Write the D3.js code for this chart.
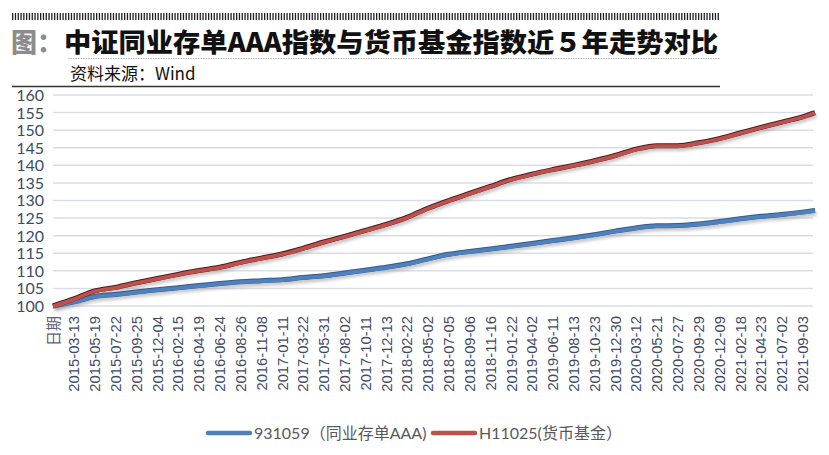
<!DOCTYPE html>
<html><head><meta charset="utf-8">
<script src="https://cdn.jsdelivr.net/npm/d3@7/dist/d3.min.js"></script>
<style>
html,body{margin:0;padding:0;background:#fff;}
svg{display:block;}
</style></head>
<body>
<svg id="chart" width="829" height="455"></svg>
<script>
// ---------- data ----------
const titlePrefix = "图：";
const titleText = "中证同业存单AAA指数与货币基金指数近５年走势对比";
const sourceText = "资料来源：Wind";
const yTicks = [100,105,110,115,120,125,130,135,140,145,150,155,160];
const xLabels = ["日期","2015-03-13","2015-05-19","2015-07-22","2015-09-25","2015-12-04","2016-02-15","2016-04-19","2016-06-24","2016-08-26","2016-11-08","2017-01-11","2017-03-22","2017-05-31","2017-08-02","2017-10-11","2017-12-13","2018-02-22","2018-05-02","2018-07-05","2018-09-06","2018-11-16","2019-01-22","2019-04-02","2019-06-11","2019-08-13","2019-10-23","2019-12-30","2020-03-12","2020-05-21","2020-07-27","2020-09-29","2020-12-09","2021-02-18","2021-04-23","2021-07-02","2021-09-03"];
const labelEvery = 45;     // trading days between labels
const lastDay = 1647;      // trading-day index of the final observation
const seriesNames = ["931059（同业存单AAA)","H11025(货币基金）"];
// values at each labelled day, plus the final observation
const cdValues = [100,101.2,102.7,103.3,104.0,104.6,105.2,105.8,106.4,106.9,107.2,107.5,108.1,108.6,109.4,110.2,111.0,112.0,113.4,114.7,115.5,116.2,117.0,117.8,118.6,119.4,120.3,121.3,122.2,122.8,122.9,123.3,124.0,124.8,125.5,126.0,126.7,127.2];
const mmfValues = [100,102.0,104.3,105.3,106.6,107.8,109.0,110.1,111.0,112.4,113.6,114.8,116.4,118.2,119.8,121.5,123.2,125.2,127.8,130.0,132.0,134.0,136.0,137.5,138.8,140.0,141.3,142.8,144.6,145.6,145.6,146.4,147.6,149.2,150.8,152.3,153.8,155.0];
const seriesColors = ["#4F81BD","#C0504D"];
const seriesEdges = ["#34598a","#4a1c1a"];

// ---------- setup ----------
const svg = d3.select("#chart");
const days = xLabels.map((d,i)=>i*labelEvery).concat([lastDay]);

const x = d3.scaleLinear().domain([0,lastDay]).range([53,815]);
const y = d3.scaleLinear().domain([100,160]).range([306,95]);

const defs = svg.append("defs");
const f = defs.append("filter").attr("id","shadow").attr("x","-5%").attr("y","-20%").attr("width","110%").attr("height","140%");
f.append("feGaussianBlur").attr("stdDeviation",1.6);

// ---------- header ----------
const bars = svg.append("g");
bars.selectAll("rect").data(d3.range(12,720,2.8)).join("rect")
  .attr("x",d=>d).attr("y",13).attr("width",1.3).attr("height",7).attr("fill","#222");

svg.append("text").attr("x",11).attr("y",52)
  .attr("font-family","'Noto Sans CJK SC'").attr("font-weight",900).attr("font-size",26)
  .attr("fill","#8c8c8c").text(titlePrefix);
svg.append("text").attr("x",64).attr("y",52)
  .attr("font-family","'Noto Sans CJK SC'").attr("font-weight",900).attr("font-size",26.5)
  .attr("textLength",654).attr("lengthAdjust","spacingAndGlyphs")
  .attr("fill","#111").text(titleText);

svg.append("line").attr("x1",68).attr("x2",720).attr("y1",58.5).attr("y2",58.5)
  .attr("stroke","#b5b5b5").attr("stroke-width",1).attr("stroke-dasharray","1.5,1");

svg.append("text").attr("x",70).attr("y",80)
  .attr("font-family","'Noto Sans CJK SC'").attr("font-size",17)
  .attr("fill","#111").text(sourceText);

svg.append("line").attr("x1",12).attr("x2",720).attr("y1",86.5).attr("y2",86.5)
  .attr("stroke","#333").attr("stroke-width",1.5);

// ---------- grid & y axis ----------
const grid = svg.append("g");
grid.selectAll("line").data(yTicks).join("line")
  .attr("x1",53).attr("x2",813)
  .attr("y1",d=>y(d)).attr("y2",d=>y(d))
  .attr("stroke","#d9dde6").attr("stroke-width",1.5);

const yAxis = d3.axisLeft(y).tickValues(yTicks).tickSize(0).tickPadding(0);
const yg = svg.append("g").attr("transform","translate(44,0)").call(yAxis);
yg.select(".domain").remove();
yg.selectAll("text").attr("font-family","Lato, 'Noto Sans'").attr("font-size",16)
  .attr("fill","#3f4b66").attr("dy","0.34em");

// ---------- x axis labels ----------
const xg = svg.append("g");
xg.selectAll("text").data(xLabels).join("text")
  .attr("transform",(d,i)=>`translate(${x(i*labelEvery)+5.5},316) rotate(-90)`)
  .attr("text-anchor","end")
  .attr("font-family",(d,i)=> i===0 ? "'Noto Sans CJK SC'" : "'Liberation Sans', Arial")
  .attr("font-size",(d,i)=> i===0 ? 15 : 14.8)
  .attr("fill",(d,i)=> i===0 ? "#5a6378" : "#3f4b66")
  .text(d=>d);

// ---------- lines ----------
const series = [cdValues, mmfValues];
const line = d3.line().x((d,i)=>x(days[i])).y(d=>y(d)).curve(d3.curveMonotoneX);

const shadowG = svg.append("g").attr("filter","url(#shadow)").attr("transform","translate(1.5,3)");
series.forEach((vals)=>{
  shadowG.append("path").attr("d",line(vals)).attr("fill","none")
    .attr("stroke","#9a9a9a").attr("stroke-opacity",0.55).attr("stroke-width",4.8);
});
series.forEach((vals,k)=>{
  svg.append("path").attr("d",line(vals)).attr("fill","none")
    .attr("stroke",seriesEdges[k]).attr("stroke-width",5).attr("stroke-linejoin","round");
  svg.append("path").attr("d",line(vals)).attr("fill","none")
    .attr("stroke",seriesColors[k]).attr("stroke-width",3.8).attr("stroke-linejoin","round")
    .attr("transform","translate(0,0.4)");
});

// ---------- legend ----------
const legend = svg.append("g").attr("transform","translate(0,433)");
const legendX = [208, 433];
seriesNames.forEach((name,k)=>{
  legend.append("line").attr("x1",legendX[k]).attr("x2",legendX[k]+42)
    .attr("y1",0).attr("y2",0).attr("stroke",seriesColors[k]).attr("stroke-width",4.5)
    .attr("stroke-linecap","round");
  legend.append("text").attr("x",legendX[k]+46).attr("y",0).attr("dy","0.35em")
    .attr("font-family","Lato, 'Noto Sans CJK SC'").attr("font-size",16)
    .attr("fill","#595959").text(name);
});
</script>
</body></html>
